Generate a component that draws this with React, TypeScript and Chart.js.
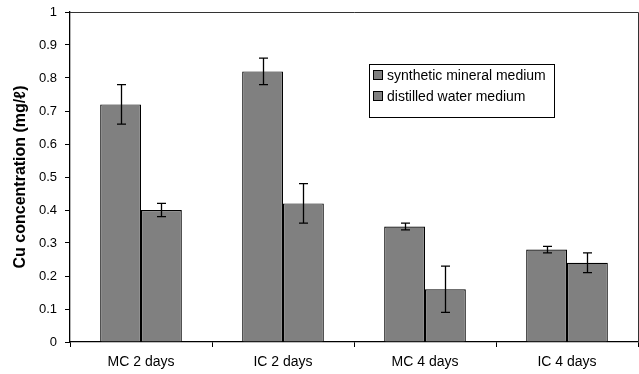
import React, { useEffect, useRef } from "react";
import { Chart, registerables } from "chart.js";

Chart.register(...registerables);

const categories = ["MC 2 days", "IC 2 days", "MC 4 days", "IC 4 days"];
const syntheticValues = [0.72, 0.82, 0.35, 0.28];
const syntheticErrors = [0.06, 0.04, 0.01, 0.01];
const distilledValues = [0.4, 0.42, 0.16, 0.24];
const distilledErrors = [0.02, 0.06, 0.07, 0.03];
const seriesLabels = ["synthetic mineral medium", "distilled water medium"];
const yTitle = "Cu concentration (mg/\u2113)";

const FONT = "'Liberation Sans', Arial, sans-serif";

const errorBarPlugin = {
  id: "errorBars",
  afterDatasetsDraw(chart: any) {
    const ctx = chart.ctx;
    const y = chart.scales.y;
    chart.data.datasets.forEach((ds: any, di: number) => {
      const meta = chart.getDatasetMeta(di);
      meta.data.forEach((bar: any, i: number) => {
        const v = ds.data[i];
        const e = ds.errors[i];
        const x = Math.round(bar.x) + 0.5;
        const yt = y.getPixelForValue(v + e);
        const yb = y.getPixelForValue(v - e);
        ctx.save();
        ctx.strokeStyle = "#000";
        ctx.lineWidth = 1.3;
        ctx.beginPath();
        ctx.moveTo(x, yt);
        ctx.lineTo(x, yb);
        ctx.moveTo(x - 4.5, yt);
        ctx.lineTo(x + 4.5, yt);
        ctx.moveTo(x - 4.5, yb);
        ctx.lineTo(x + 4.5, yb);
        ctx.stroke();
        ctx.restore();
      });
    });
  },
};

const framePlugin = {
  id: "frameAndLegend",
  afterDraw(chart: any) {
    const ctx = chart.ctx;
    const a = chart.chartArea;
    ctx.save();
    ctx.strokeStyle = "#333";
    ctx.lineWidth = 1;
    ctx.beginPath();
    ctx.moveTo(a.left, Math.round(a.top) + 0.5);
    ctx.lineTo(Math.round(a.right) + 0.5, Math.round(a.top) + 0.5);
    ctx.lineTo(Math.round(a.right) + 0.5, a.bottom);
    ctx.stroke();

    // legend box
    const lx = 369.5, ly = 64.5, lw = 185, lh = 53;
    ctx.fillStyle = "#fff";
    ctx.fillRect(lx, ly, lw, lh);
    ctx.strokeStyle = "#000";
    ctx.strokeRect(lx, ly, lw, lh);
    ctx.font = `14px ${FONT}`;
    ctx.textBaseline = "middle";
    chart.data.datasets.forEach((ds: any, i: number) => {
      const cy = 76 + i * 21;
      ctx.fillStyle = ds.backgroundColor;
      ctx.fillRect(373.5, cy - 5.5, 9, 9);
      ctx.strokeStyle = "#000";
      ctx.strokeRect(373.5, cy - 5.5, 9, 9);
      ctx.fillStyle = "#000";
      ctx.fillText(ds.label, 387, cy);
    });
    ctx.restore();
  },
};

export default function App() {
  const ref = useRef<HTMLCanvasElement>(null);
  useEffect(() => {
    const chart = new Chart(ref.current!, {
      type: "bar",
      data: {
        labels: categories,
        datasets: [
          {
            label: seriesLabels[0],
            data: syntheticValues,
            errors: syntheticErrors,
            backgroundColor: "#808080",
            borderColor: "#000",
            borderWidth: 1.2,
            categoryPercentage: 0.575,
            barPercentage: 1.0,
          } as any,
          {
            label: seriesLabels[1],
            data: distilledValues,
            errors: distilledErrors,
            backgroundColor: "#808080",
            borderColor: "#000",
            borderWidth: 1.2,
            categoryPercentage: 0.575,
            barPercentage: 1.0,
          } as any,
        ],
      },
      options: {
        animation: false,
        responsive: false,
        devicePixelRatio: 1,
        layout: { padding: { top: 12, right: 1, left: 0, bottom: 0 } },
        plugins: { legend: { display: false }, tooltip: { enabled: false } },
        scales: {
          x: {
            grid: { drawOnChartArea: false, color: "#000", tickLength: 5, offset: true },
            border: { color: "#000", width: 1.3 },
            ticks: { color: "#000", font: { family: FONT, size: 14 }, padding: 7, maxRotation: 0 },
            afterFit(s: any) { s.height = 32; s.paddingLeft = 0; s.paddingRight = 0; },
          },
          y: {
            min: 0,
            max: 1,
            grid: { drawOnChartArea: false, color: "#000", tickLength: 5 },
            border: { color: "#000", width: 1.3 },
            ticks: {
              stepSize: 0.1,
              color: "#000",
              font: { family: FONT, size: 13 },
              padding: 8,
              callback: (v: any) => String(Number(Number(v).toFixed(1))),
            },
            title: {
              display: true,
              text: yTitle,
              color: "#000",
              font: { family: FONT, size: 16, weight: "bold" },
              padding: { top: 11, bottom: 0 },
            },
            afterFit(s: any) { s.width = 70; s.paddingTop = 0; s.paddingBottom = 0; },
          },
        },
      },
      plugins: [errorBarPlugin, framePlugin],
    } as any);
    return () => chart.destroy();
  }, []);
  return (
    <div style={{ position: "fixed", left: 0, top: 0, width: 639, height: 374, background: "#fff" }}>
      <canvas ref={ref} width={639} height={374} style={{ width: 639, height: 374 }} />
    </div>
  );
}
